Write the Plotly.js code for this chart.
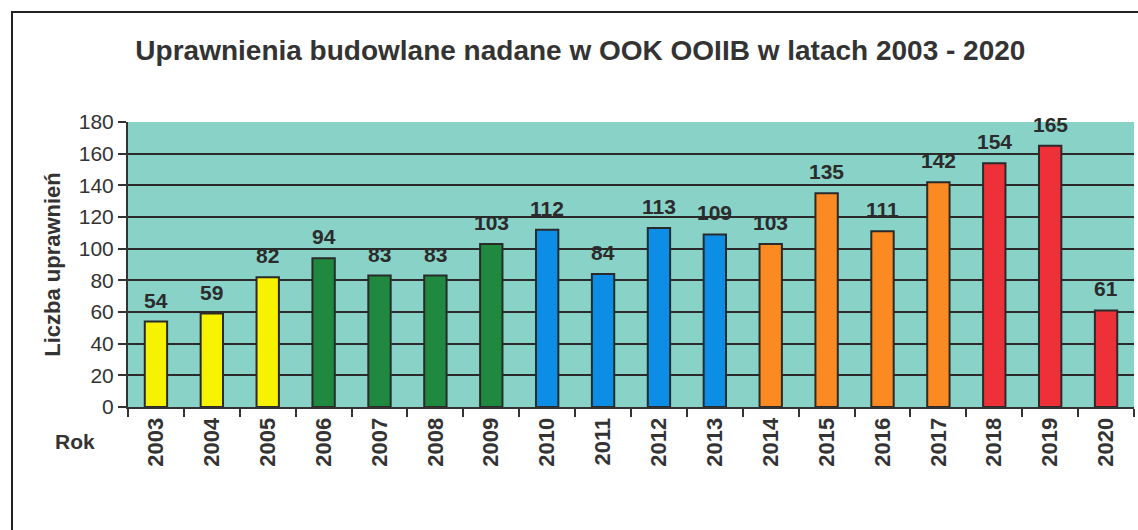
<!DOCTYPE html>
<html>
<head>
<meta charset="utf-8">
<script src="https://cdn.plot.ly/plotly-3.0.1.min.js"></script>
<style>html,body{margin:0;padding:0;background:#fff;}#chart{width:1138px;height:530px;}</style>
</head>
<body>
<div id="chart"></div>
<script>
const years = ["2003","2004","2005","2006","2007","2008","2009","2010","2011","2012","2013","2014","2015","2016","2017","2018","2019","2020"];
const counts = [54,59,82,94,83,83,103,112,84,113,109,103,135,111,142,154,165,61];
const barColors = ["#f6f200","#f6f200","#f6f200",
  "#1f8a3f","#1f8a3f","#1f8a3f","#1f8a3f",
  "#0d8ee6","#0d8ee6","#0d8ee6","#0d8ee6",
  "#fb8a22","#fb8a22","#fb8a22","#fb8a22",
  "#ee3038","#ee3038","#ee3038"];
const yTicks = [0,20,40,60,80,100,120,140,160,180];

const trace = {
  type: "bar",
  x: years,
  y: counts,
  marker: {color: barColors, line: {color: "#2a2a2a", width: 2}},
  width: 0.4,
  hoverinfo: "x+y"
};

const annotations = years.map((yr, i) => ({
  x: i, y: counts[i], xref: "x", yref: "y",
  text: "<b>" + counts[i] + "</b>", showarrow: false,
  xanchor: "center", yanchor: "bottom", yshift: 8,
  font: {family: "Liberation Sans, Arial, sans-serif", size: 21, color: "#2b2b2b"}
}));
annotations.push({
  xref: "paper", yref: "paper", x: -0.053, y: -0.12,
  xanchor: "center", yanchor: "middle", showarrow: false,
  text: "<b>Rok</b>",
  font: {family: "Liberation Sans, Arial, sans-serif", size: 21, color: "#333"}
});

const layout = {
  width: 1138, height: 530,
  margin: {l: 128, r: 4, t: 122, b: 123},
  paper_bgcolor: "#ffffff",
  plot_bgcolor: "#88d2c8",
  showlegend: false,
  title: {
    text: "<b>Uprawnienia budowlane nadane w OOK OOIIB w latach 2003 - 2020</b>",
    x: 0.51, xanchor: "center", y: 0.905, yanchor: "middle",
    font: {family: "Liberation Sans, Arial, sans-serif", size: 28, color: "#333"}
  },
  xaxis: {
    type: "category",
    range: [-0.5, years.length - 0.5],
    autorange: false,
    tickangle: -90,
    tickson: "boundaries",
    ticks: "outside", ticklen: 8, tickcolor: "#333", tickwidth: 2,
    showline: true, linecolor: "#333", linewidth: 2,
    showgrid: false,
    tickfont: {family: "Liberation Sans, Arial, sans-serif", size: 22, color: "#333", weight: "bold"}
  },
  yaxis: {
    range: [0, 180],
    autorange: false,
    tickvals: yTicks,
    ticktext: yTicks.map(String),
    ticks: "outside", ticklen: 8, tickcolor: "#333", tickwidth: 2,
    showline: true, linecolor: "#333", linewidth: 2,
    showgrid: true, gridcolor: "#2a2a2a", gridwidth: 2,
    zeroline: false,
    tickfont: {family: "Liberation Sans, Arial, sans-serif", size: 21, color: "#333"},
    title: {text: "<b>Liczba uprawnień</b>", standoff: 12,
      font: {family: "Liberation Sans, Arial, sans-serif", size: 22, color: "#333"}}
  },
  annotations: annotations,
  shapes: [{
    type: "rect", xref: "paper", yref: "paper",
    x0: -0.1153, x1: 1.2, y0: -0.6, y1: 1.386,
    line: {color: "#222", width: 2}, fillcolor: "rgba(0,0,0,0)", layer: "below"
  }]
};

Plotly.newPlot("chart", [trace], layout, {displayModeBar: false, staticPlot: true});
</script>
</body>
</html>
